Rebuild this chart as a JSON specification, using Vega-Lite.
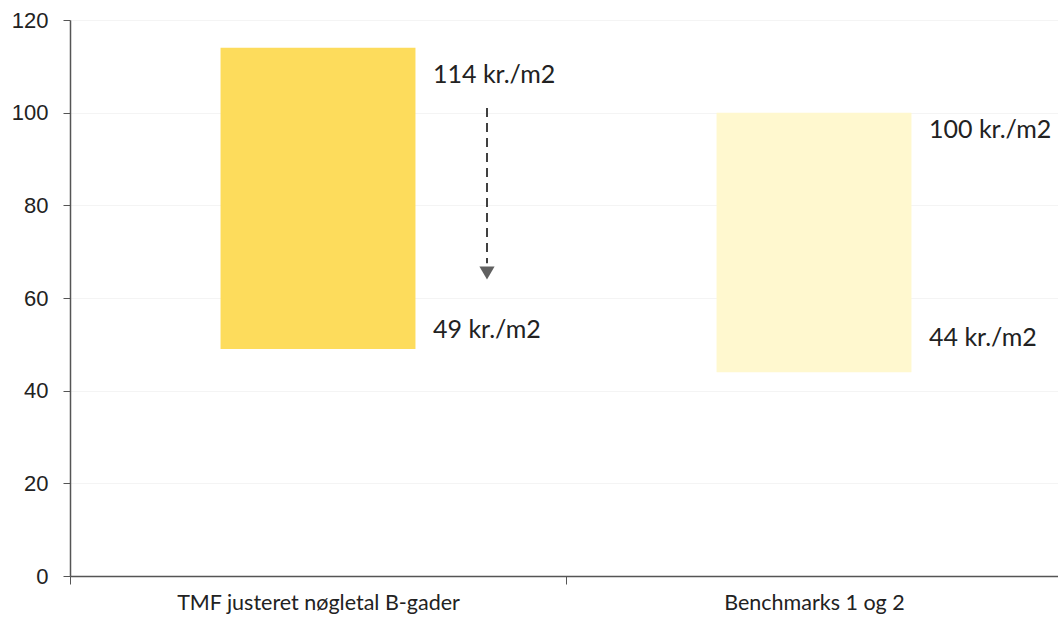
{
  "$schema": "https://vega.github.io/schema/vega-lite/v6.json",
  "autosize": {"type": "none"},
  "width": 988,
  "height": 556,
  "padding": {"left": 70, "top": 20, "right": 0, "bottom": 44},
  "background": "white",
  "config": {"view": {"stroke": null}},
  "datasets": {
    "bars": [
      {"cat": "TMF justeret nøgletal B-gader", "low": 49, "high": 114, "serie": "TMF"},
      {"cat": "Benchmarks 1 og 2", "low": 44, "high": 100, "serie": "Benchmark"}
    ],
    "labels": [
      {"cat": "TMF justeret nøgletal B-gader", "label": "114 kr./m2", "ly": 108.1},
      {"cat": "TMF justeret nøgletal B-gader", "label": "49 kr./m2", "ly": 53.1},
      {"cat": "Benchmarks 1 og 2", "label": "100 kr./m2", "ly": 96.3},
      {"cat": "Benchmarks 1 og 2", "label": "44 kr./m2", "ly": 51.4}
    ],
    "arrow": [
      {"cat": "TMF justeret nøgletal B-gader", "from": 101, "to": 67.5, "head": 65.4}
    ]
  },
  "encoding": {
    "x": {
      "field": "cat",
      "type": "nominal",
      "sort": ["TMF justeret nøgletal B-gader", "Benchmarks 1 og 2"],
      "scale": {"paddingInner": 0, "paddingOuter": 0, "range": [0, 992]},
      "axis": {
        "title": null,
        "labelAngle": 0,
        "labelLimit": 0,
        "tickBand": "extent",
        "tickSize": 8,
        "tickColor": "#555555",
        "domainColor": "#555555",
        "domainWidth": 1.5,
        "labelFont": "Lato",
        "labelFontSize": 21.5,
        "labelColor": "#222222",
        "labelPadding": 8,
        "grid": false
      }
    }
  },
  "layer": [
    {
      "data": {"name": "bars"},
      "mark": {"type": "bar", "width": {"band": 0.393}},
      "encoding": {
        "y": {
          "field": "high",
          "type": "quantitative",
          "scale": {"domain": [0, 120], "nice": false},
          "axis": {
            "title": null,
            "values": [0, 20, 40, 60, 80, 100, 120],
            "tickSize": 7,
            "tickColor": "#555555",
            "domainColor": "#555555",
            "domainWidth": 1.5,
            "labelFont": "Liberation Sans",
            "labelFontSize": 22,
            "labelColor": "#222222",
            "labelPadding": 15,
            "grid": true,
            "gridColor": "#f4f4f4",
            "gridWidth": 1
          }
        },
        "y2": {"field": "low"},
        "color": {
          "field": "serie",
          "type": "nominal",
          "scale": {"domain": ["TMF", "Benchmark"], "range": ["#FDDC5C", "#FFF8CF"]},
          "legend": null
        }
      }
    },
    {
      "data": {"name": "labels"},
      "mark": {"type": "text", "align": "left", "baseline": "middle", "xOffset": 115, "font": "Lato", "fontSize": 25, "color": "#222222"},
      "encoding": {
        "y": {"field": "ly", "type": "quantitative"},
        "text": {"field": "label"}
      }
    },
    {
      "data": {"name": "arrow"},
      "mark": {"type": "rule", "xOffset": 169, "strokeDash": [9, 6], "strokeWidth": 2, "color": "#404040"},
      "encoding": {
        "y": {"field": "from", "type": "quantitative"},
        "y2": {"field": "to"}
      }
    },
    {
      "data": {"name": "arrow"},
      "mark": {"type": "point", "shape": "triangle-down", "filled": true, "size": 230, "xOffset": 169, "color": "#606060", "opacity": 1},
      "encoding": {
        "y": {"field": "head", "type": "quantitative"}
      }
    }
  ]
}
